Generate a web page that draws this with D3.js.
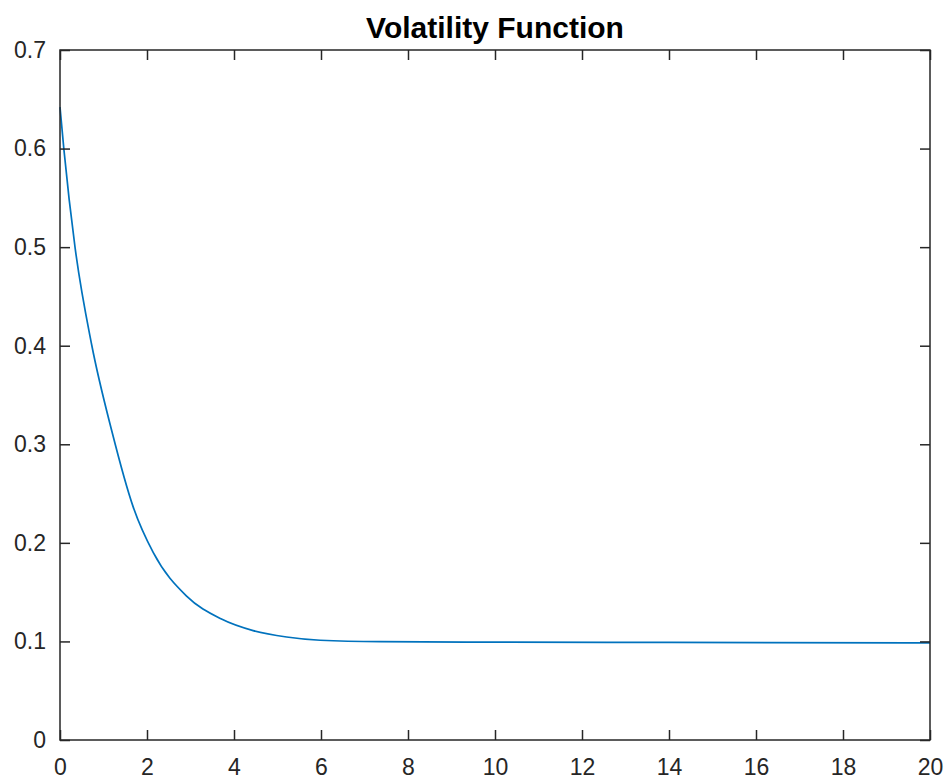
<html>
  <head>
    <meta charset="utf-8">
    <title>Volatility Function</title>
    <style>
      body { margin: 0; background: #fff; }
      text { font-family: "Liberation Sans", Arial, sans-serif; fill: #262626; }
    </style>
  </head>
  <body>
    <script src="https://d3js.org/d3.v7.min.js" charset="utf-8"></script>
    <script>
    var widthCanvas = 949;
    var heightCanvas = 783;

    // curve samples
    var tValues = [0, 0.09, 0.345, 0.728, 1.188, 1.686, 2.145, 2.91, 3.7, 4.44, 5.21, 5.98, 7.36, 10, 14, 20];
    var volValues = [0.642, 0.599, 0.5, 0.401, 0.314, 0.236, 0.19, 0.146, 0.123, 0.111, 0.1045, 0.1012, 0.0997, 0.0993, 0.099, 0.0985];
    var xTicks = [0, 2, 4, 6, 8, 10, 12, 14, 16, 18, 20];
    var yTicks = [0, 0.1, 0.2, 0.3, 0.4, 0.5, 0.6, 0.7];

    var boxLeft = 60, boxRight = 930, boxTop = 50, boxBottom = 740;
    var tickLen = 10;

    var svg = d3.select("body")
                .append("svg")
                .attr("width", widthCanvas)
                .attr("height", heightCanvas);

    var x = d3.scaleLinear().domain([0, 20]).range([boxLeft, boxRight]);
    var y = d3.scaleLinear().domain([0, 0.7]).range([boxBottom, boxTop]);

    var axisColour = "#262626";

    // curve
    var line = d3.line()
                 .x(function(d){ return x(d[0]); })
                 .y(function(d){ return y(d[1]); })
                 .curve(d3.curveMonotoneX);
    var pts = tValues.map(function(t, i){ return [t, volValues[i]]; });
    svg.append("path")
       .datum(pts)
       .attr("d", line)
       .attr("fill", "none")
       .attr("stroke", "#0072BD")
       .attr("stroke-width", 1.7);

    // box
    svg.append("rect")
       .attr("x", boxLeft).attr("y", boxTop)
       .attr("width", boxRight - boxLeft).attr("height", boxBottom - boxTop)
       .attr("fill", "none")
       .attr("stroke", axisColour)
       .attr("stroke-width", 1.5);

    // ticks (inward, all four sides)
    var xAxisB = svg.append("g").attr("transform", "translate(0," + boxBottom + ")")
        .call(d3.axisBottom(x).tickValues(xTicks).tickSizeInner(-tickLen).tickSizeOuter(0).tickPadding(19)
              .tickFormat(d3.format("d")));
    var xAxisT = svg.append("g").attr("transform", "translate(0," + boxTop + ")")
        .call(d3.axisTop(x).tickValues(xTicks).tickSizeInner(-tickLen).tickSizeOuter(0).tickFormat(""));
    var yAxisL = svg.append("g").attr("transform", "translate(" + boxLeft + ",0)")
        .call(d3.axisLeft(y).tickValues(yTicks).tickSizeInner(-tickLen).tickSizeOuter(0).tickPadding(14)
              .tickFormat(function(d){ return d === 0 ? "0" : d3.format(".1f")(d); }));
    var yAxisR = svg.append("g").attr("transform", "translate(" + boxRight + ",0)")
        .call(d3.axisRight(y).tickValues(yTicks).tickSizeInner(-tickLen).tickSizeOuter(0).tickFormat(""));

    [xAxisB, xAxisT, yAxisL, yAxisR].forEach(function(g){
        g.select(".domain").remove();
        g.selectAll(".tick line").attr("stroke", axisColour).attr("stroke-width", 1.5);
        g.selectAll(".tick text").attr("font-size", 23).attr("fill", "#262626")
         .style("font-family", "'Liberation Sans', Arial, sans-serif");
    });

    // title
    svg.append("text")
       .attr("x", (boxLeft + boxRight) / 2)
       .attr("y", 38)
       .attr("text-anchor", "middle")
       .attr("font-size", 30)
       .attr("font-weight", "bold")
       .style("fill", "#000")
       .text("Volatility Function");
    </script>
  </body>
</html>
